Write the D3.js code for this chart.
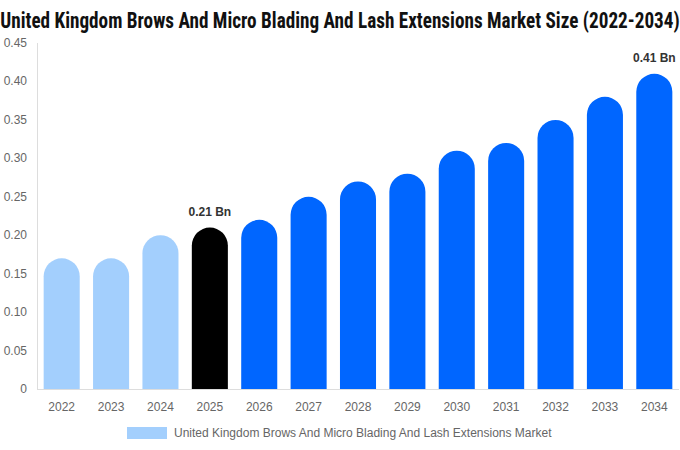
<!DOCTYPE html>
<html><head><meta charset="utf-8">
<script src="https://cdn.jsdelivr.net/npm/d3@7"></script>
<style>body{margin:0;background:#fff}svg{display:block}</style>
</head><body>
<svg id="c" width="680" height="450"></svg>
<script>
const years = ["2022","2023","2024","2025","2026","2027","2028","2029","2030","2031","2032","2033","2034"];
const values = [0.17,0.17,0.20,0.21,0.22,0.25,0.27,0.28,0.31,0.32,0.35,0.38,0.41];
const yTicks = [0,0.05,0.10,0.15,0.20,0.25,0.30,0.35,0.40,0.45];
const labeled = {"2025":"0.21 Bn","2034":"0.41 Bn"};
const title = "United Kingdom Brows And Micro Blading And Lash Extensions Market Size (2022-2034)";
const legendLabel = "United Kingdom Brows And Micro Blading And Lash Extensions Market";

const svg = d3.select("#c");
const m = {l:37, r:1, t:43, b:61};
const W = 680, H = 450;
const x = d3.scaleBand().domain(years).range([m.l, W-m.r]).paddingInner(0.27).paddingOuter(0.135);
const y = d3.scaleLinear().domain([0,0.45]).range([H-m.b, m.t]);

function color(yr){
  const n = +yr;
  if (n < 2025) return "#a3cffd";
  if (n === 2025) return "#000000";
  return "#0066ff";
}

svg.append("text").attr("transform","translate(340,28) scale(1,1.12)").attr("text-anchor","middle")
  .attr("font-family","'Liberation Sans Narrow','Roboto Condensed','Arial Narrow',sans-serif")
  .attr("font-weight","bold").attr("font-size",19.2).attr("fill","#111").text(title);

// axes
svg.append("line").attr("x1",m.l+0.5).attr("x2",m.l+0.5).attr("y1",m.t).attr("y2",H-m.b).attr("stroke","#ddd");
svg.append("line").attr("x1",m.l).attr("x2",W-m.r).attr("y1",H-m.b+0.5).attr("y2",H-m.b+0.5).attr("stroke","#ddd");

svg.selectAll(".yt").data(yTicks).enter().append("text")
  .attr("x",27).attr("y",d=>y(d)+4).attr("text-anchor","end")
  .attr("font-family","'Liberation Sans',Arial,sans-serif").attr("font-size",12).attr("fill","#666")
  .text(d=>d===0?"0":d.toFixed(2));

svg.selectAll(".xt").data(years).enter().append("text")
  .attr("x",d=>x(d)+x.bandwidth()/2).attr("y",H-m.b+22).attr("text-anchor","middle")
  .attr("font-family","'Liberation Sans',Arial,sans-serif").attr("font-size",12).attr("fill","#666")
  .text(d=>d);

const bw = x.bandwidth(), r = bw/2;
svg.selectAll(".bar").data(years).enter().append("path")
  .attr("fill",d=>color(d))
  .attr("d",(d,i)=>{
    const x0 = x(d), top = y(values[i]), bot = y(0);
    return `M${x0},${bot} L${x0},${top+r} A${r},${r} 0 0 1 ${x0+bw},${top+r} L${x0+bw},${bot} Z`;
  });

svg.selectAll(".lbl").data(years.filter(d=>labeled[d])).enter().append("text")
  .attr("x",d=>x(d)+bw/2).attr("y",d=>y(values[years.indexOf(d)])-12)
  .attr("text-anchor","middle").attr("font-family","'Liberation Sans',Arial,sans-serif")
  .attr("font-weight","bold").attr("font-size",12).attr("fill","#333").text(d=>labeled[d]);

// legend
svg.append("rect").attr("x",127).attr("y",427).attr("width",40).attr("height",12).attr("fill","#a3cffd");
svg.append("text").attr("x",174).attr("y",437).attr("font-family","'Liberation Sans',Arial,sans-serif")
  .attr("font-size",12).attr("fill","#666").text(legendLabel);
</script>
</body></html>
